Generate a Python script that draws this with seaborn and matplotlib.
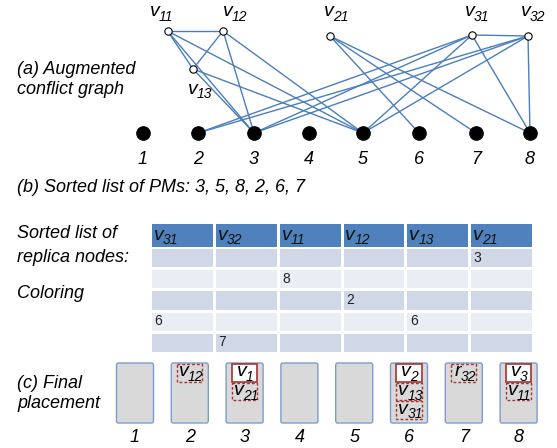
import numpy as np
import matplotlib
matplotlib.use("Agg")
import matplotlib.pyplot as plt
from matplotlib.colors import ListedColormap
from matplotlib.patches import FancyBboxPatch, Rectangle
from matplotlib.transforms import offset_copy
import pandas as pd
import seaborn as sns

plt.rcParams['font.family'] = ['Liberation Sans', 'DejaVu Sans']

# Data
pms = [1, 2, 3, 4, 5, 6, 7, 8]
replicas = ['v11', 'v12', 'v13', 'v21', 'v31', 'v32']
conflict_edges = [('v11', 'v12'), ('v11', 'v13'), ('v12', 'v13'), ('v31', 'v32')]
pm_edges = {'v11': [3, 5], 'v12': [3, 5], 'v13': [3, 5],
            'v21': [6, 7, 8], 'v31': [2, 3, 5, 8], 'v32': [2, 3, 5, 8]}
sorted_pms = [3, 5, 8, 2, 6, 7]
table_order = ['v31', 'v32', 'v11', 'v12', 'v13', 'v21']
color_rows = [3, 8, 2, 6, 7]
coloring = {'v31': 6, 'v32': 7, 'v11': 8, 'v12': 2, 'v13': 6, 'v21': 3}
placement = {2: [('v12', 'dashed')],
             3: [('v1', 'solid'), ('v21', 'dashed')],
             6: [('v2', 'solid'), ('v13', 'dashed'), ('v31', 'dashed')],
             7: [('r32', 'dashed')],
             8: [('v3', 'solid'), ('v11', 'dashed')]}

# Layout (pixels)
pm_x = dict(zip(pms, [143, 198, 254, 309, 363, 419, 476, 530]))
pm_y = 133
rep_pos = {'v11': (167.5, 31), 'v12': (223, 31), 'v13': (193, 69),
           'v21': (330, 36), 'v31': (472, 35), 'v32': (528, 36)}
rep_lab = {'v11': (150, 12), 'v12': (223, 12), 'v13': (188, 89),
           'v21': (324, 12), 'v31': (465, 12), 'v32': (521, 12)}

edge_col = '#4A7EBB'

fig = plt.figure(figsize=(5.57, 4.48), dpi=100)


def sublabel(axis, x, y, name, fs=14, sfs=10, center=False, color='black'):
    # italic letter with a lowered subscript, drawn as two texts
    vw = 9.0 if name[0] == 'v' else 6.5
    sw = 6.2 * len(name[1:])
    dx0 = -(vw + sw) / 2 if center else 0
    t0 = offset_copy(axis.transData, fig=fig, x=dx0, y=0, units='dots')
    t1 = offset_copy(axis.transData, fig=fig, x=dx0 + vw, y=-5, units='dots')
    axis.text(x, y, name[0], transform=t0, ha='left', va='center', fontsize=fs,
              style='italic', color=color, zorder=5)
    axis.text(x, y, name[1:], transform=t1, ha='left', va='center', fontsize=sfs,
              style='italic', color=color, zorder=5)


ax = fig.add_axes([0, 0, 1, 1])

# (a) augmented conflict graph
for a, b in conflict_edges:
    ax.plot([rep_pos[a][0], rep_pos[b][0]], [rep_pos[a][1], rep_pos[b][1]],
            color=edge_col, lw=1.0, zorder=1)
for r, lst in pm_edges.items():
    for p in lst:
        ax.plot([rep_pos[r][0], pm_x[p]], [rep_pos[r][1], pm_y],
                color=edge_col, lw=1.0, zorder=1)

pm_df = pd.DataFrame({'x': [pm_x[p] for p in pms], 'y': [pm_y] * len(pms)})
sns.scatterplot(data=pm_df, x='x', y='y', ax=ax, s=95, color='black',
                edgecolor='black', zorder=3, legend=False)
rep_df = pd.DataFrame({'x': [rep_pos[r][0] for r in replicas],
                       'y': [rep_pos[r][1] for r in replicas]})
sns.scatterplot(data=rep_df, x='x', y='y', ax=ax, s=28, color='white',
                edgecolor='black', linewidth=0.8, zorder=3, legend=False)
ax.set_xlim(0, 557)
ax.set_ylim(448, 0)
ax.axis('off')

for p in pms:
    ax.text(pm_x[p], 160, str(p), ha='center', va='center', fontsize=13,
            style='italic')
for r in replicas:
    sublabel(ax, rep_lab[r][0], rep_lab[r][1], r)

ax.text(17, 70, '(a) Augmented', ha='left', va='center', fontsize=13, style='italic')
ax.text(17, 90, 'conflict graph', ha='left', va='center', fontsize=13, style='italic')

# (b) sorted list and coloring table
ax.text(17, 187, '(b) Sorted list of PMs: ' + ', '.join(str(p) for p in sorted_pms),
        ha='left', va='center', fontsize=13, style='italic')
ax.text(17, 234, 'Sorted list of', ha='left', va='center', fontsize=13, style='italic')
ax.text(17, 257, 'replica nodes:', ha='left', va='center', fontsize=13, style='italic')
ax.text(17, 294, 'Coloring', ha='left', va='center', fontsize=13, style='italic')

W, H = 557, 448
hh = fig.add_axes([150 / W, (H - 248) / H, 383 / W, 26 / H])
sns.heatmap(np.zeros((1, len(table_order))), ax=hh, cmap=ListedColormap(['#4F81BD']),
            cbar=False, linewidths=1, linecolor='white',
            xticklabels=False, yticklabels=False)
for j, r in enumerate(table_order):
    sublabel(hh, j + 0.06, 0.5, r, color='#111111')

body = np.array([[(i + 1) % 2] * len(table_order) for i in range(len(color_rows))])
hb = fig.add_axes([150 / W, (H - 353) / H, 383 / W, 106 / H])
sns.heatmap(body, ax=hb, cmap=ListedColormap(['#E9EDF4', '#D0D8E8']), vmin=0, vmax=1,
            cbar=False, linewidths=1, linecolor='white',
            xticklabels=False, yticklabels=False)
for j, r in enumerate(table_order):
    i = color_rows.index(coloring[r])
    hb.text(j + 0.07, i + 0.5, str(coloring[r]), ha='left', va='center',
            fontsize=10, color='#222222')

# (c) final placement
ax.text(17, 383, '(c) Final', ha='left', va='center', fontsize=13, style='italic')
ax.text(17, 404, 'placement', ha='left', va='center', fontsize=13, style='italic')

box_x = dict(zip(pms, [135 + i * 54.8 for i in range(len(pms))]))
bw, btop, bh = 37, 363, 60
for p in pms:
    x0 = box_x[p] - bw / 2
    ax.add_patch(FancyBboxPatch((x0, btop), bw, bh,
                                boxstyle='round,pad=0,rounding_size=2',
                                facecolor='#D9D9D9', edgecolor='#7C9CCF', lw=1.0,
                                zorder=2))
    ax.text(box_x[p], 437, str(p), ha='center', va='center', fontsize=13,
            style='italic')
    for k, (lab, ls) in enumerate(placement.get(p, [])):
        y0 = btop + 1.5 + k * 18.5
        if ls == 'solid':
            rect = Rectangle((x0 + 5.5, y0), 25.5, 17.5, facecolor='white',
                             edgecolor='#A33331', lw=1.2, zorder=3)
        else:
            rect = Rectangle((x0 + 5.5, y0), 25.5, 17.5, facecolor='none',
                             edgecolor='#A33331', lw=1.0, ls=(0, (2, 1.5)), zorder=3)
        ax.add_patch(rect)
        sublabel(ax, x0 + 18.5, y0 + 7.5, lab, center=True)

fig.savefig('out.png', dpi=100)
